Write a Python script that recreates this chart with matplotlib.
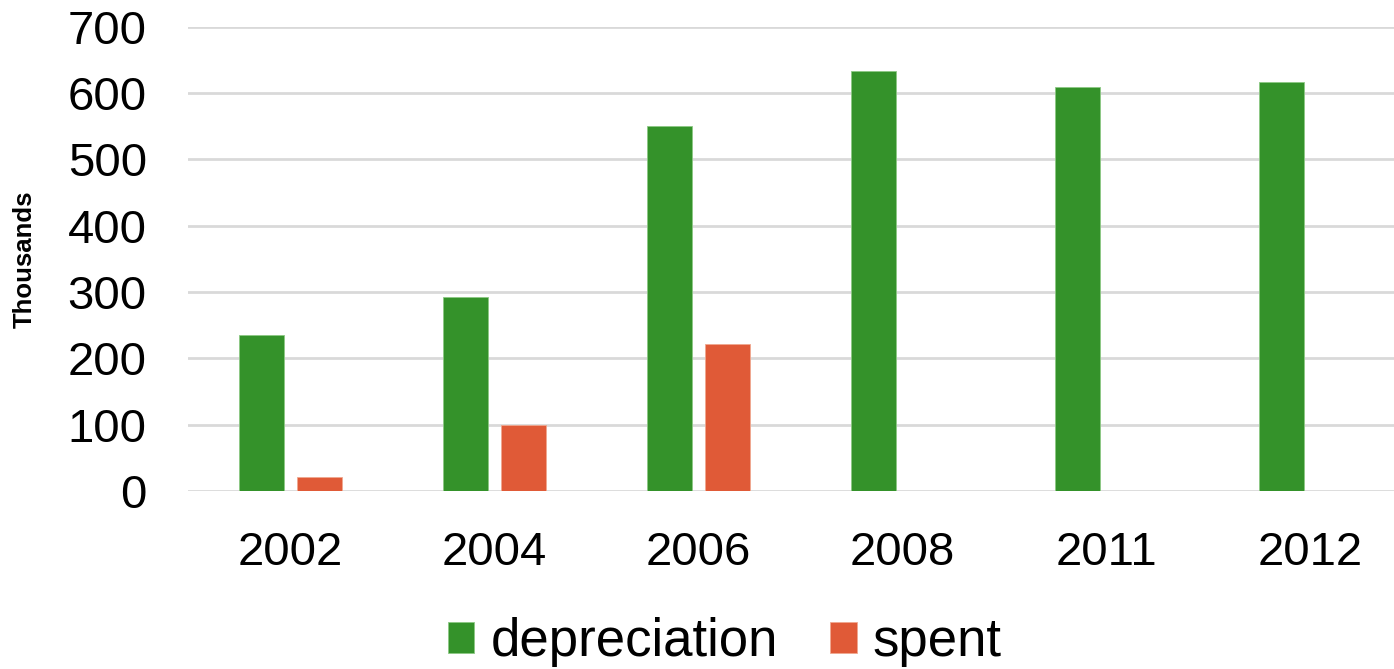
import numpy as np
import matplotlib
matplotlib.use('Agg')
import matplotlib.pyplot as plt

plt.rcParams['font.family'] = ['Liberation Sans', 'DejaVu Sans']

years = ['2002', '2004', '2006', '2008', '2011', '2012']
depreciation = [236, 292, 550, 633, 609, 617]
spent = [21, 100, 222, 0, 0, 0]

green = '#34922a'
orange = '#e05a37'

fig = plt.figure(figsize=(13.94, 6.69), dpi=100)
# plot area runs a little past the right edge, like in the original export
ax = fig.add_axes([0.1352, 0.266, 0.878, 0.694])

x = np.arange(len(years))
w = 0.22
off = 0.142
ax.bar(x - off, depreciation, w, color=green, edgecolor='#8cc884', linewidth=0.6, label='depreciation', zorder=3)
ax.bar(x + off, spent, w, color=orange, edgecolor='#f0a890', linewidth=0.6, label='spent', zorder=3)

ax.set_xlim(-0.5, len(years) - 0.5)
ax.set_ylim(0, 700)
ax.set_yticks(range(0, 701, 100))
ax.set_xticks(x)
ax.set_xticklabels(years)
ax.grid(axis='y', color='#d9d9d9', linewidth=2, zorder=0)
for s in ax.spines.values():
    s.set_visible(False)
ax.tick_params(axis='both', length=0, labelsize=34, colors='black')
ax.tick_params(axis='x', pad=28.5)
ax.tick_params(axis='y', pad=30)
ax.set_ylabel('Thousands', fontsize=18.5, fontweight='bold')
ax.yaxis.set_label_coords(-0.124, 0.5)

fig.legend(loc='center', bbox_to_anchor=(0.52, 0.040), ncol=2, frameon=False,
           fontsize=38, handlelength=0.5, handleheight=0.55, handletextpad=0.3,
           columnspacing=1.0, borderpad=0)

fig.savefig('out.png', dpi=100)
